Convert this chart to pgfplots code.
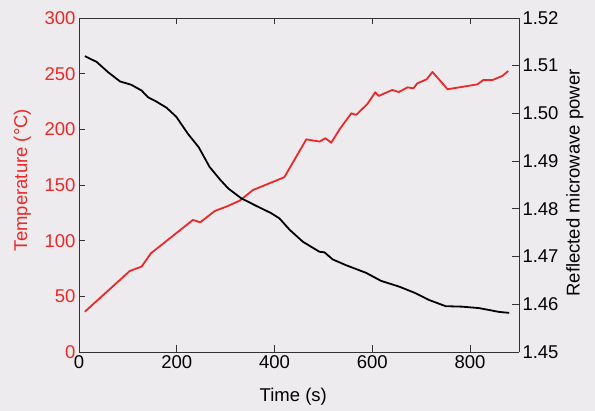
\documentclass[border=0pt]{standalone}
\usepackage{fontspec}
\setmainfont{Liberation Sans}
\usepackage{xcolor}
\usepackage{pgfplots}
\pgfplotsset{compat=1.18}

\definecolor{bgcol}{RGB}{237,235,238}
\definecolor{tred}{RGB}{236,40,40}
\definecolor{axgray}{RGB}{50,50,50}

\begin{document}
\begin{tikzpicture}
\fill[bgcol] (-79pt,-59pt) rectangle (516pt,352pt);

\pgfplotsset{
  common/.style={
    scale only axis, width=440pt, height=334pt,
    at={(0,0)}, anchor=south west,
    xmin=0, xmax=900,
    tick align=inside,
    major tick length=6.5pt,
    axis line style={axgray, line width=0.9pt},
    every tick/.style={axgray, line width=0.9pt},
    tick label style={font=\fontsize{18.5}{21}\selectfont},
    label style={font=\fontsize{18.5}{21}\selectfont},
    /pgf/number format/assume math mode=true,
  }
}

% temperature, left axis
\begin{axis}[common,
  axis y line*=left,
  ymin=0, ymax=300,
  ytick={0,50,100,150,200,250,300},
  xtick={0,200,400,600,800},
  xtick pos=both,
  yticklabel style={tred},
  ylabel={Temperature (°C)},
  ylabel style={tred, at={(axis description cs:-0.118,0.515)}, anchor=base},
  xlabel={Time (s)},
  xlabel style={at={(axis description cs:0.487,-0.147)}, anchor=base},
]
\addplot[tred, line width=1.8pt, line join=round] coordinates {
(12,36.2) (104,72.8) (128,76.7) (147,88.6) (233,118.6) (248,116.5)
(278,126.7) (301,130.5) (329,136) (356,145.5) (420,157) (465,191)
(492,189) (504,192) (516,188) (533,200) (557,214.4) (567,213)
(590,222.8) (606,233.3) (613,230) (641,235.4) (654,233.5) (672,237.7)
(684,236.8) (692,241.3) (711,244.9) (723,251.5) (754,236) (815,240.4)
(827,244.3) (846,244.3) (866,248) (878,252.4)
};
\end{axis}

% reflected power, right axis
\begin{axis}[common,
  axis y line*=right,
  axis x line=none,
  ymin=1.45, ymax=1.52,
  ytick={1.45,1.46,1.47,1.48,1.49,1.50,1.51,1.52},
  yticklabel style={/pgf/number format/.cd, fixed, fixed zerofill, precision=2},
  ylabel={Reflected microwave power},
  ylabel style={at={(axis description cs:1.138,0.506)}, anchor=base},
]
\addplot[black, line width=1.8pt, line join=round] coordinates {
(12,1.5120) (36,1.5108) (60,1.5086) (84,1.5067) (107,1.5060) (128,1.5048) (141,1.5034)
(158,1.5025) (179,1.5012) (199,1.4993) (223,1.4957) (245,1.4929) (267,1.4888)
(288,1.4862) (305,1.4843) (332,1.4822) (363,1.4806) (393,1.4791) (410,1.4780)
(431,1.4756) (458,1.4731) (492,1.4710) (502,1.4709) (519,1.4694) (546,1.4682)
(587,1.4666) (618,1.4649) (655,1.4637) (689,1.4623) (716,1.4609) (750,1.4596)
(784,1.4595) (818,1.4592) (839,1.4588) (859,1.4584) (880,1.4582)
};
\end{axis}

\pgfresetboundingbox
\useasboundingbox (-79pt,-59pt) rectangle (516pt,352pt);
\end{tikzpicture}
\end{document}
